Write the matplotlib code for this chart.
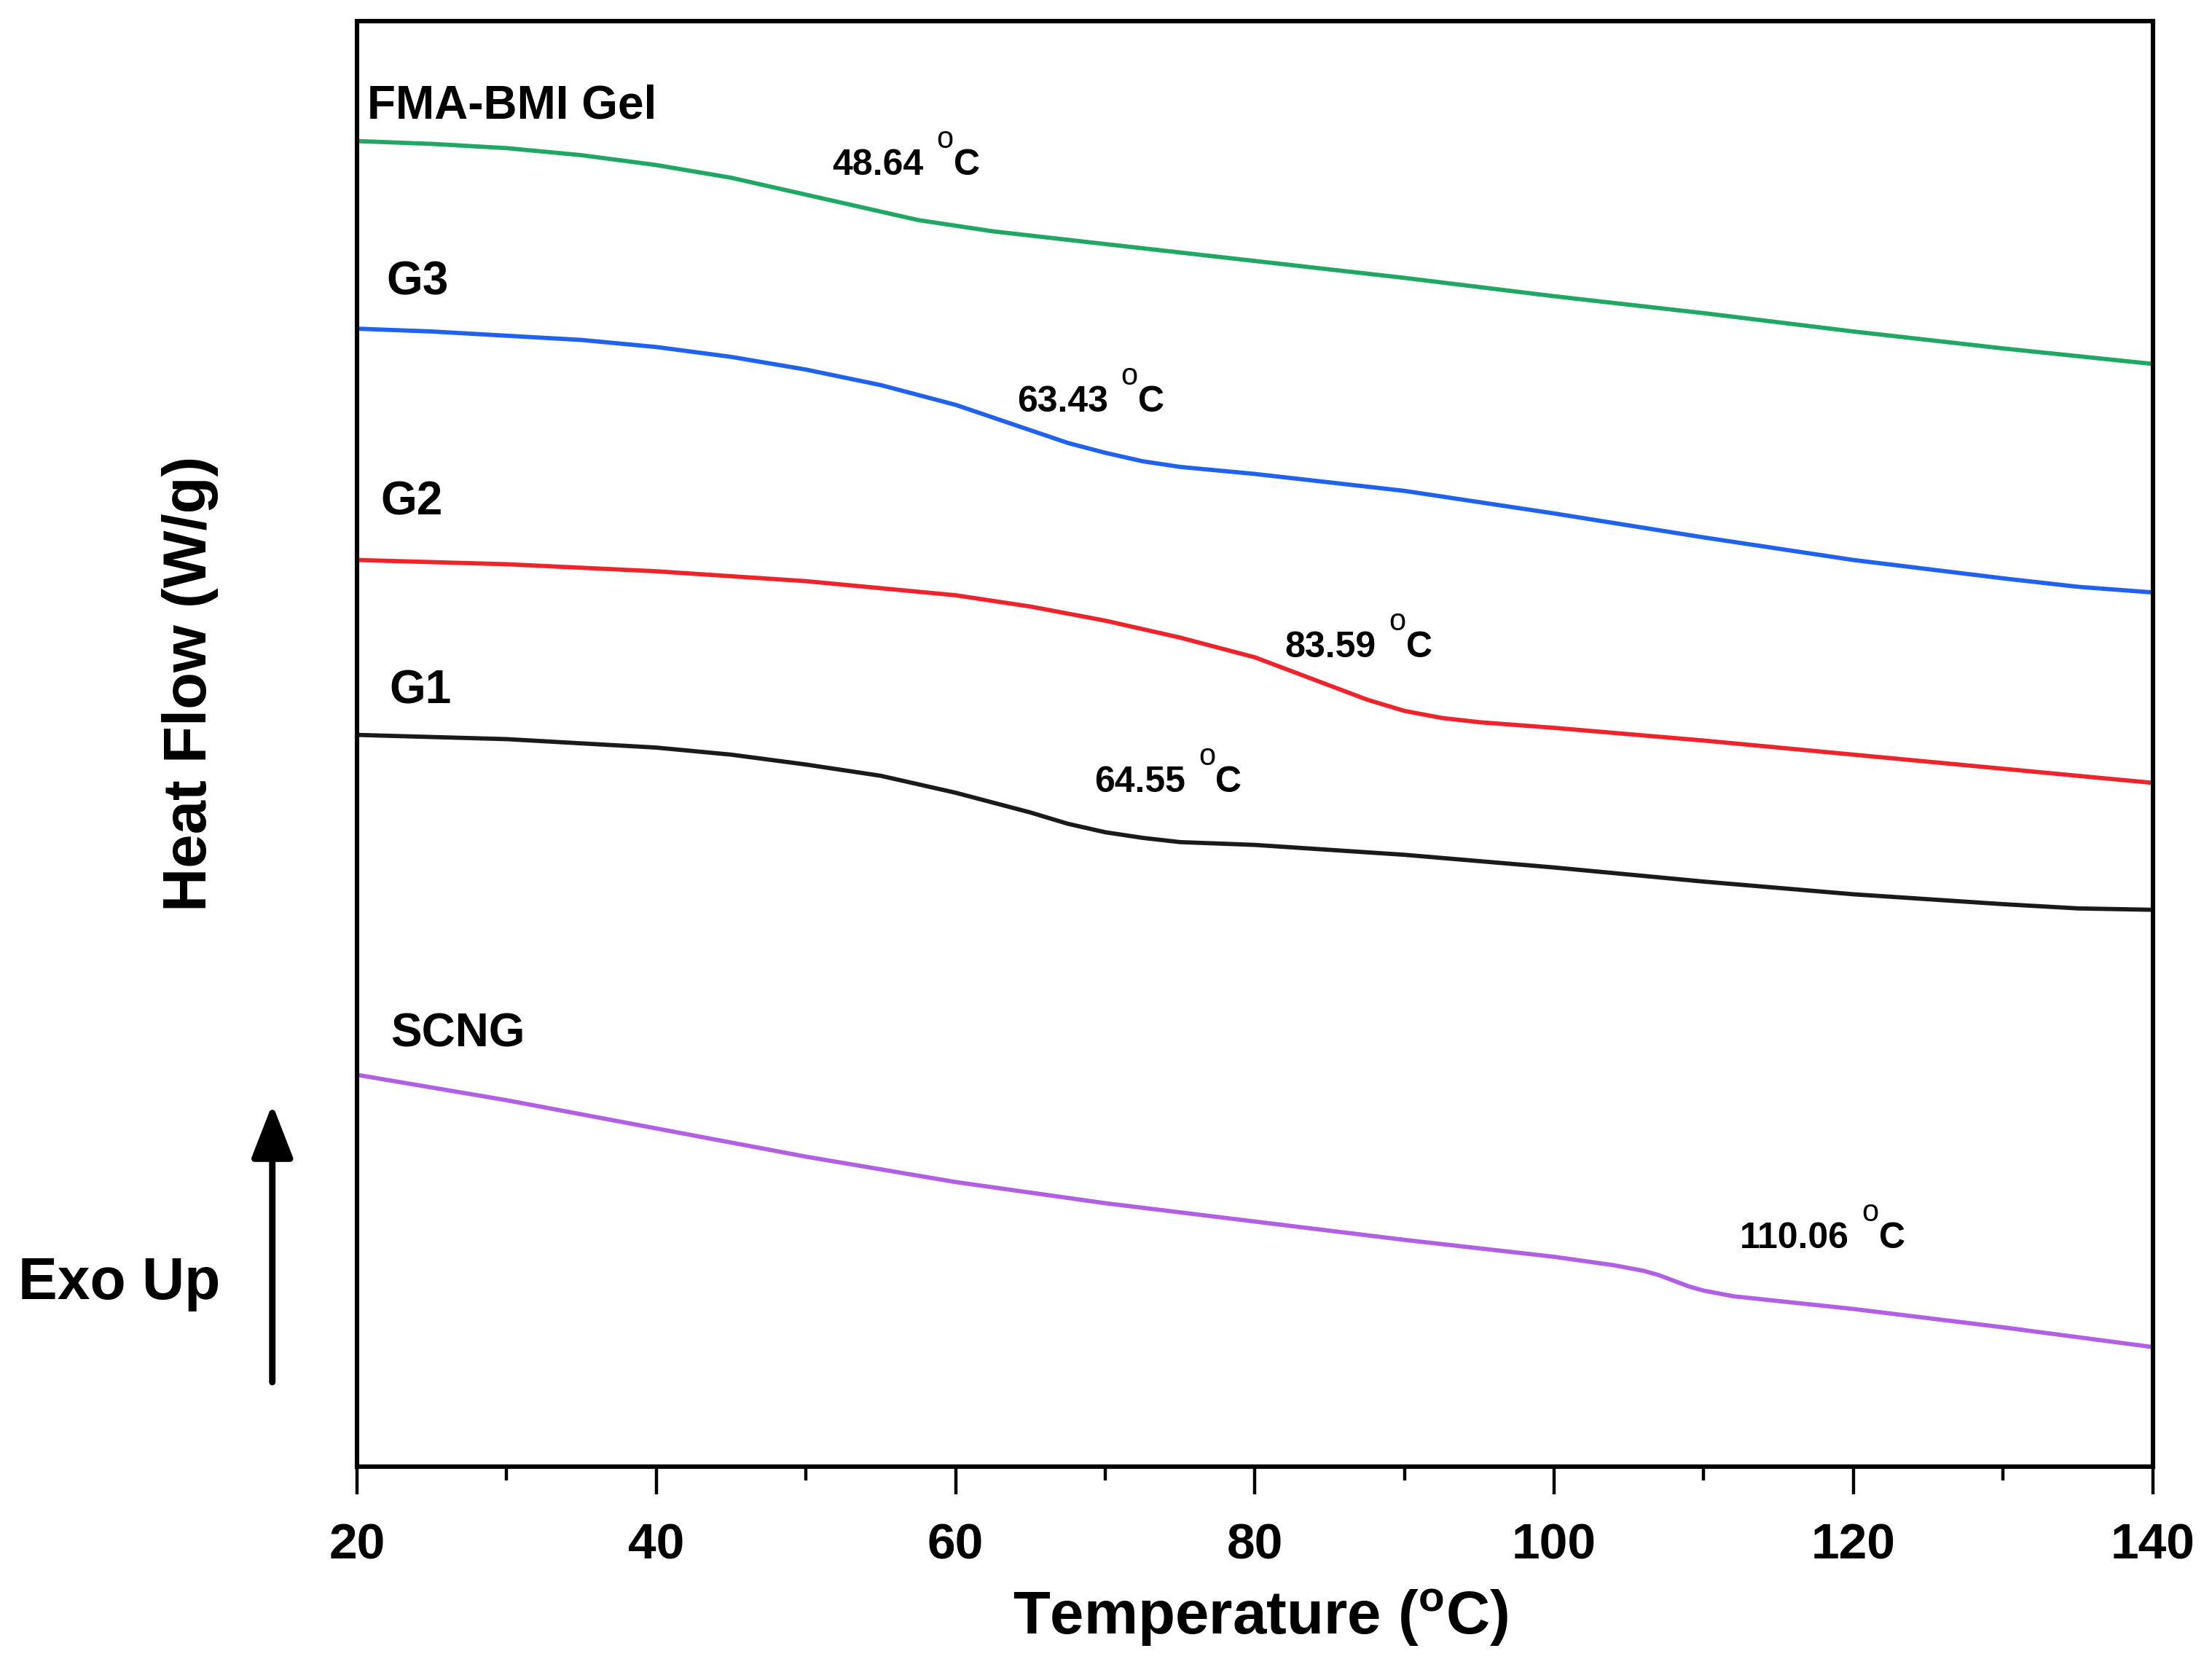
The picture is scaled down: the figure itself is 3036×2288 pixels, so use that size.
import matplotlib
matplotlib.use("Agg")
import matplotlib.pyplot as plt

plt.rcParams['font.family'] = ['Liberation Sans', 'DejaVu Sans']
plt.rcParams['font.weight'] = 'bold'
plt.rcParams['mathtext.fontset'] = 'custom'
plt.rcParams['mathtext.rm'] = 'Liberation Sans:bold'
plt.rcParams['mathtext.bf'] = 'Liberation Sans:bold'
plt.rcParams['mathtext.it'] = 'Liberation Sans:bold'

# ---- data (heat flow in arbitrary units, offset curves) ----
T_gel = [20, 25, 30, 35, 40, 45, 50, 52.5, 55, 57.5, 60, 62.5, 65, 70, 80, 90, 100, 110, 120, 130, 140]
hf_gel = [940, 938, 935, 930, 923, 914, 902, 896, 890, 884, 880, 876, 873, 867, 855, 843, 830, 818, 805, 793, 782]

T_g3 = [20, 25, 30, 35, 40, 45, 50, 55, 60, 65, 67.5, 70, 72.5, 75, 80, 90, 100, 110, 120, 130, 135, 140]
hf_g3 = [807, 805, 802, 799, 794, 787, 778, 767, 753, 735, 726, 719, 713, 709, 704, 692, 676, 659, 643, 630, 624, 620]

T_g2 = [20, 30, 40, 50, 60, 65, 70, 75, 80, 85, 87.5, 90, 92.5, 95, 100, 110, 120, 130, 140]
hf_g2 = [643, 640, 635, 628, 618, 610, 600, 588, 574, 554, 544, 536, 531, 528, 524, 515, 505, 495, 485]

T_g1 = [20, 30, 40, 45, 50, 55, 60, 65, 67.5, 70, 72.5, 75, 80, 90, 100, 110, 120, 130, 135, 140]
hf_g1 = [519, 516, 510, 505, 498, 490, 478, 464, 456, 450, 446, 443, 441, 434, 425, 415, 406, 399, 396, 395]

T_scng = [20, 30, 40, 50, 60, 70, 80, 90, 100, 104, 106, 107, 108, 109, 110, 111, 112, 120, 130, 140]
hf_scng = [278, 260, 240, 220, 202, 187, 174, 161, 149, 143, 139, 136, 132, 128, 125, 123, 121, 112, 99, 85]

series_names = ["FMA-BMI Gel", "G3", "G2", "G1", "SCNG"]
series_colors = ["#1fa862", "#1f62f0", "#f0232a", "#1a1a1a", "#b25fe6"]
label_pos = [(20.66, 965), (21.98, 840), (21.6, 684), (22.17, 550), (22.26, 307)]

tg_values = ["48.64", "63.43", "83.59", "64.55", "110.06"]
tg_pos = [(51.77, 923), (64.1, 755), (82.0, 581), (69.3, 485), (112.4, 162)]

x_ticks = [20, 40, 60, 80, 100, 120, 140]

# ---- figure ----
fig = plt.figure(figsize=(15.18, 11.44), dpi=200)
ax = fig.add_axes([0.1614, 0.120, 0.8118, 0.8673])

Ts = [T_gel, T_g3, T_g2, T_g1, T_scng]
hfs = [hf_gel, hf_g3, hf_g2, hf_g1, hf_scng]
for T, hf, c in zip(Ts, hfs, series_colors):
    ax.plot(T, hf, color=c, lw=2.1, solid_joinstyle='round')

for name, (x, y) in zip(series_names, label_pos):
    ax.text(x, y, name, fontsize=23, fontweight='bold', ha='left', va='center')

ax.set_xlim(20, 140)
ax.set_ylim(0, 1025)
ax.set_xticks(x_ticks)
ax.set_xticks(range(30, 140, 20), minor=True)
ax.set_yticks([])
ax.tick_params(axis='x', which='major', direction='out', length=13.5, width=1.6,
               labelsize=25, pad=14)
ax.tick_params(axis='x', which='minor', direction='out', length=6.8, width=1.6)
for lab in ax.get_xticklabels():
    lab.set_fontweight('bold')
for sp in ax.spines.values():
    sp.set_linewidth(2.2)

# Tg annotations: number, raised degree "o", then "C"
num_texts = []
for v, (x, y) in zip(tg_values, tg_pos):
    t = ax.text(x, y, v, fontsize=18, fontweight='bold', ha='left', va='center')
    num_texts.append(t)
fig.canvas.draw()
renderer = fig.canvas.get_renderer()
for t, (x, y) in zip(num_texts, tg_pos):
    w = t.get_window_extent(renderer).width
    ax.annotate("o", xy=(x, y), xytext=(w + 29, 35), textcoords='offset pixels',
                fontsize=15, fontweight='normal', ha='center', va='center')
    ax.annotate("C", xy=(x, y), xytext=(w + 41, 0), textcoords='offset pixels',
                fontsize=18, fontweight='bold', ha='left', va='center')

fig.text(0.570, 0.0296, r"Temperature ($^{\mathrm{o}}$C)", fontsize=30,
         fontweight='bold', ha='center', va='center')
fig.text(0.0861, 0.5897, "Heat Flow (W/g)", fontsize=30, fontweight='bold',
         ha='center', va='center', rotation=90)
fig.text(0.0083, 0.2301, "Exo Up", fontsize=29, fontweight='bold',
         ha='left', va='center')
ax.annotate('', xy=(0.1231, 0.3376), xytext=(0.1231, 0.1709),
            xycoords='figure fraction', textcoords='figure fraction',
            arrowprops=dict(arrowstyle='-|>,head_length=0.9,head_width=0.35',
                            lw=3.2, color='black', shrinkA=0, shrinkB=0,
                            mutation_scale=25))

fig.savefig("out.png", dpi=200, facecolor='white')
